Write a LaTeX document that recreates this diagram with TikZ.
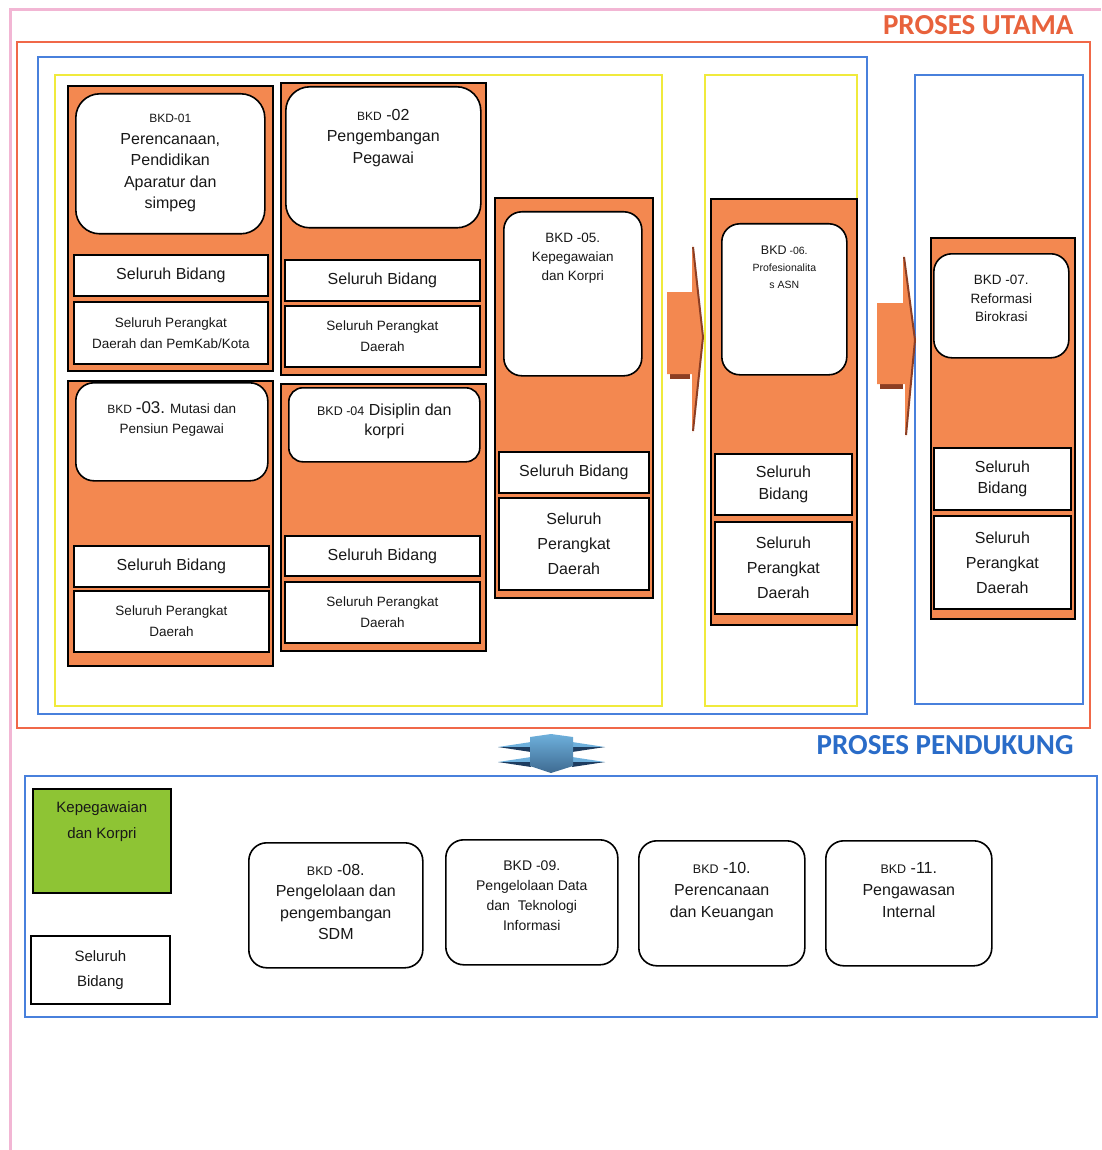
\documentclass[tikz,border=0pt]{standalone}
\usepackage{fontspec}
\setmainfont{Liberation Sans}
\newfontfamily\headfont{Carlito}
\usetikzlibrary{positioning}

\definecolor{panelor}{RGB}{243,136,80}
\definecolor{arrowdark}{RGB}{140,62,35}
\definecolor{pinkline}{RGB}{242,182,212}
\definecolor{redline}{RGB}{240,104,72}
\definecolor{blueline}{RGB}{72,128,220}
\definecolor{yellowline}{RGB}{240,234,60}
\definecolor{titlered}{RGB}{232,98,60}
\definecolor{titleblue}{RGB}{42,108,200}
\definecolor{grbox}{RGB}{142,196,52}
\definecolor{txtgrey}{RGB}{24,24,24}
\definecolor{bluelight}{RGB}{110,176,220}
\definecolor{bluedark}{RGB}{30,60,95}

\newcommand{\fsz}[2]{\fontsize{#1}{#2}\selectfont}

\tikzset{
  panel/.style={draw=black, line width=2pt, fill=panelor, anchor=north west, inner sep=0pt},
  sbox/.style={draw=black, line width=1.8pt, fill=white, anchor=north west, align=center, inner sep=0pt, text=txtgrey},
  rbox/.style={draw=black, line width=1.6pt, fill=white, rounded corners=18pt, anchor=north west, inner sep=0pt},
  lbl/.style={align=center, inner sep=0pt, text=txtgrey, anchor=north, font=\fsz{16}{21.5}},
  frame/.style={line width=1.4pt},
}

\begin{document}
\begin{tikzpicture}[x=1pt, y=-1pt]
\useasboundingbox (0,0) rectangle (1101,1150);

% outer frames
\draw[pinkline, line width=3pt] (10,1150) -- (10,10) -- (1101,10);
\draw[frame, redline] (17,42) rectangle (1090,728);
\draw[frame, blueline] (38,57) rectangle (867,714);
\draw[frame, yellowline] (55,75) rectangle (662,706);
\draw[frame, yellowline] (705,75) rectangle (857,706);
\draw[frame, blueline] (915,75) rectangle (1083,704);
\draw[frame, blueline] (25,776) rectangle (1097,1017);

\node[text=titlered, font=\headfont\bfseries\fsz{29}{30}, anchor=east] (utama) at (1077,25) {PROSES UTAMA};
\node[text=titleblue, font=\headfont\bfseries\fsz{29}{30}, anchor=east] (dukung) at (1077,745) {PROSES PENDUKUNG};

% BKD-01
\node[panel, minimum width=205pt, minimum height=285pt] (p1) at (67,85) {};
\node[rbox, minimum width=189pt, minimum height=140pt, rounded corners=24pt] (r1) at (75,93) {};
\node[lbl, below=21pt of r1.north] (t1) {{\fsz{12}{21.5}BKD-01}\\Perencanaan,\\Pendidikan\\Aparatur dan\\simpeg};
\node[sbox, minimum width=194pt, minimum height=41pt, font=\fsz{16}{20}] (b1) at (73,254) {Seluruh Bidang};
\node[sbox, minimum width=194pt, minimum height=62pt, font=\fsz{13.5}{21}] (d1) at (73,301) {Seluruh Perangkat\\Daerah dan PemKab/Kota};

% BKD-02
\node[panel, minimum width=205pt, minimum height=292pt] (p2) at (280,82) {};
\node[rbox, minimum width=195pt, minimum height=141pt, rounded corners=24pt] (r2) at (285,86) {};
\node[lbl, below=23pt of r2.north] (t2) {{\fsz{12}{21.5}BKD} -02\\Pengembangan\\Pegawai};
\node[sbox, minimum width=195pt, minimum height=41pt, font=\fsz{16}{20}] (b2) at (284,259) {Seluruh Bidang};
\node[sbox, minimum width=195pt, minimum height=61pt, font=\fsz{13.5}{21}] (d2) at (284,305) {Seluruh Perangkat\\Daerah};

% BKD-03
\node[panel, minimum width=205pt, minimum height=285pt] (p3) at (67,380) {};
\node[rbox, minimum width=192pt, minimum height=98pt] (r3) at (75,382) {};
\node[lbl, below=19pt of r3.north, font=\fsz{13.5}{20}] (t3) {{\fsz{12}{20}BKD} {\fsz{17}{20}-03.} Mutasi dan\\Pensiun Pegawai};
\node[sbox, minimum width=195pt, minimum height=41pt, font=\fsz{16}{20}] (b3) at (73,545) {Seluruh Bidang};
\node[sbox, minimum width=195pt, minimum height=61pt, font=\fsz{13.5}{21}] (d3) at (73,590) {Seluruh Perangkat\\Daerah};

% BKD-04
\node[panel, minimum width=205pt, minimum height=267pt] (p4) at (280,383) {};
\node[rbox, minimum width=191pt, minimum height=74pt, rounded corners=14pt] (r4) at (288,387) {};
\node[lbl, below=17pt of r4.north, font=\fsz{16}{20}] (t4) {{\fsz{12.5}{20}BKD -04} Disiplin dan\\korpri};
\node[sbox, minimum width=195pt, minimum height=40pt, font=\fsz{16}{20}] (b4) at (284,535) {Seluruh Bidang};
\node[sbox, minimum width=195pt, minimum height=61pt, font=\fsz{13.5}{21}] (d4) at (284,581) {Seluruh Perangkat\\Daerah};

% BKD-05
\node[panel, minimum width=158pt, minimum height=400pt] (p5) at (494,197) {};
\node[rbox, minimum width=138pt, minimum height=164pt] (r5) at (503,211) {};
\node[lbl, below=22pt of r5.north, font=\fsz{13.5}{19}] (t5) {BKD -05.\\Kepegawaian\\dan Korpri};
\node[sbox, minimum width=150pt, minimum height=41pt, font=\fsz{16}{20}] (b5) at (498,451) {Seluruh Bidang};
\node[sbox, minimum width=150pt, minimum height=92pt, font=\fsz{16}{25}] (d5) at (498,497) {Seluruh\\Perangkat\\Daerah};

% BKD-06
\node[panel, minimum width=146pt, minimum height=426pt] (p6) at (710,198) {};
\node[rbox, minimum width=125pt, minimum height=151pt] (r6) at (721,223) {};
\node[lbl, below=23pt of r6.north, font=\fsz{10.5}{17}] (t6) {{\fsz{12.5}{17}BKD} -06.\\Profesionalita\\s ASN};
\node[sbox, minimum width=137pt, minimum height=61pt, font=\fsz{16}{22}] (b6) at (714,453) {Seluruh\\Bidang};
\node[sbox, minimum width=137pt, minimum height=92pt, font=\fsz{16}{25}] (d6) at (714,521) {Seluruh\\Perangkat\\Daerah};

% BKD-07
\node[panel, minimum width=144pt, minimum height=381pt] (p7) at (930,237) {};
\node[rbox, minimum width=135pt, minimum height=104pt] (r7) at (933,253) {};
\node[lbl, below=22pt of r7.north, font=\fsz{13.5}{18.5}] (t7) {BKD -07.\\Reformasi\\Birokrasi};
\node[sbox, minimum width=137pt, minimum height=62pt, font=\fsz{16}{21}] (b7) at (933,447) {Seluruh\\Bidang};
\node[sbox, minimum width=137pt, minimum height=93pt, font=\fsz{16}{25}] (d7) at (933,515) {Seluruh\\Perangkat\\Daerah};

% orange arrows
\fill[arrowdark] (670,373) rectangle (690,379);
\fill[panelor] (667,292) -- (692,292) -- (692,245) -- (703,337) -- (692,433) -- (692,374) -- (667,374) -- cycle;
\draw[arrowdark, line width=2pt] (693,247) -- (703,337) -- (693,431);
\fill[arrowdark] (880,383) rectangle (903,389);
\fill[panelor] (877,303) -- (903,303) -- (903,255) -- (915,340) -- (905,437) -- (905,384) -- (877,384) -- cycle;
\draw[arrowdark, line width=2pt] (904,257) -- (915,340) -- (906,435);

% blue arrow between the two parts
\foreach \y in {742,757} {
  \fill[bluelight] (531,\y) -- (498,\y+5) -- (531,\y+5) -- cycle;
  \fill[bluedark] (531,\y+5) -- (498,\y+5) -- (531,\y+10) -- cycle;
  \fill[bluelight] (572,\y) -- (605,\y+5) -- (572,\y+5) -- cycle;
  \fill[bluedark] (572,\y+5) -- (605,\y+5) -- (572,\y+10) -- cycle;
}
\shade[top color=bluelight, bottom color=bluedark!60!bluelight] (530,737) -- (551,734) -- (573,737) -- (573,766) -- (551,773) -- (530,766) -- cycle;

% supporting processes
\node[sbox, fill=grbox, minimum width=138pt, minimum height=104pt] (g1) at (32,788) {};
\node[lbl, below=13pt of g1.north, font=\fsz{15}{26}] (tg) {Kepegawaian\\dan Korpri};
\node[sbox, minimum width=139pt, minimum height=68pt, font=\fsz{15}{25}] (b8) at (30,935) {Seluruh\\Bidang};

\node[rbox, minimum width=174pt, minimum height=125pt] (r8) at (248,842) {};
\node[lbl, below=22pt of r8.north] (t8) {{\fsz{12.5}{21.5}BKD} -08.\\Pengelolaan dan\\pengembangan\\SDM};
\node[rbox, minimum width=172pt, minimum height=125pt] (r9) at (445,839) {};
\node[lbl, below=22pt of r9.north, font=\fsz{14}{20}] (t9) {BKD -09.\\Pengelolaan Data\\dan~ Teknologi\\Informasi};
\node[rbox, minimum width=166pt, minimum height=125pt] (r10) at (638,840) {};
\node[lbl, below=22pt of r10.north, font=\fsz{16}{22}] (t10) {{\fsz{12.5}{22}BKD} -10.\\Perencanaan\\dan Keuangan};
\node[rbox, minimum width=166pt, minimum height=125pt] (r11) at (825,840) {};
\node[lbl, below=22pt of r11.north, font=\fsz{16}{22}] (t11) {{\fsz{12.5}{22}BKD} -11.\\Pengawasan\\Internal};
\end{tikzpicture}
\end{document}
